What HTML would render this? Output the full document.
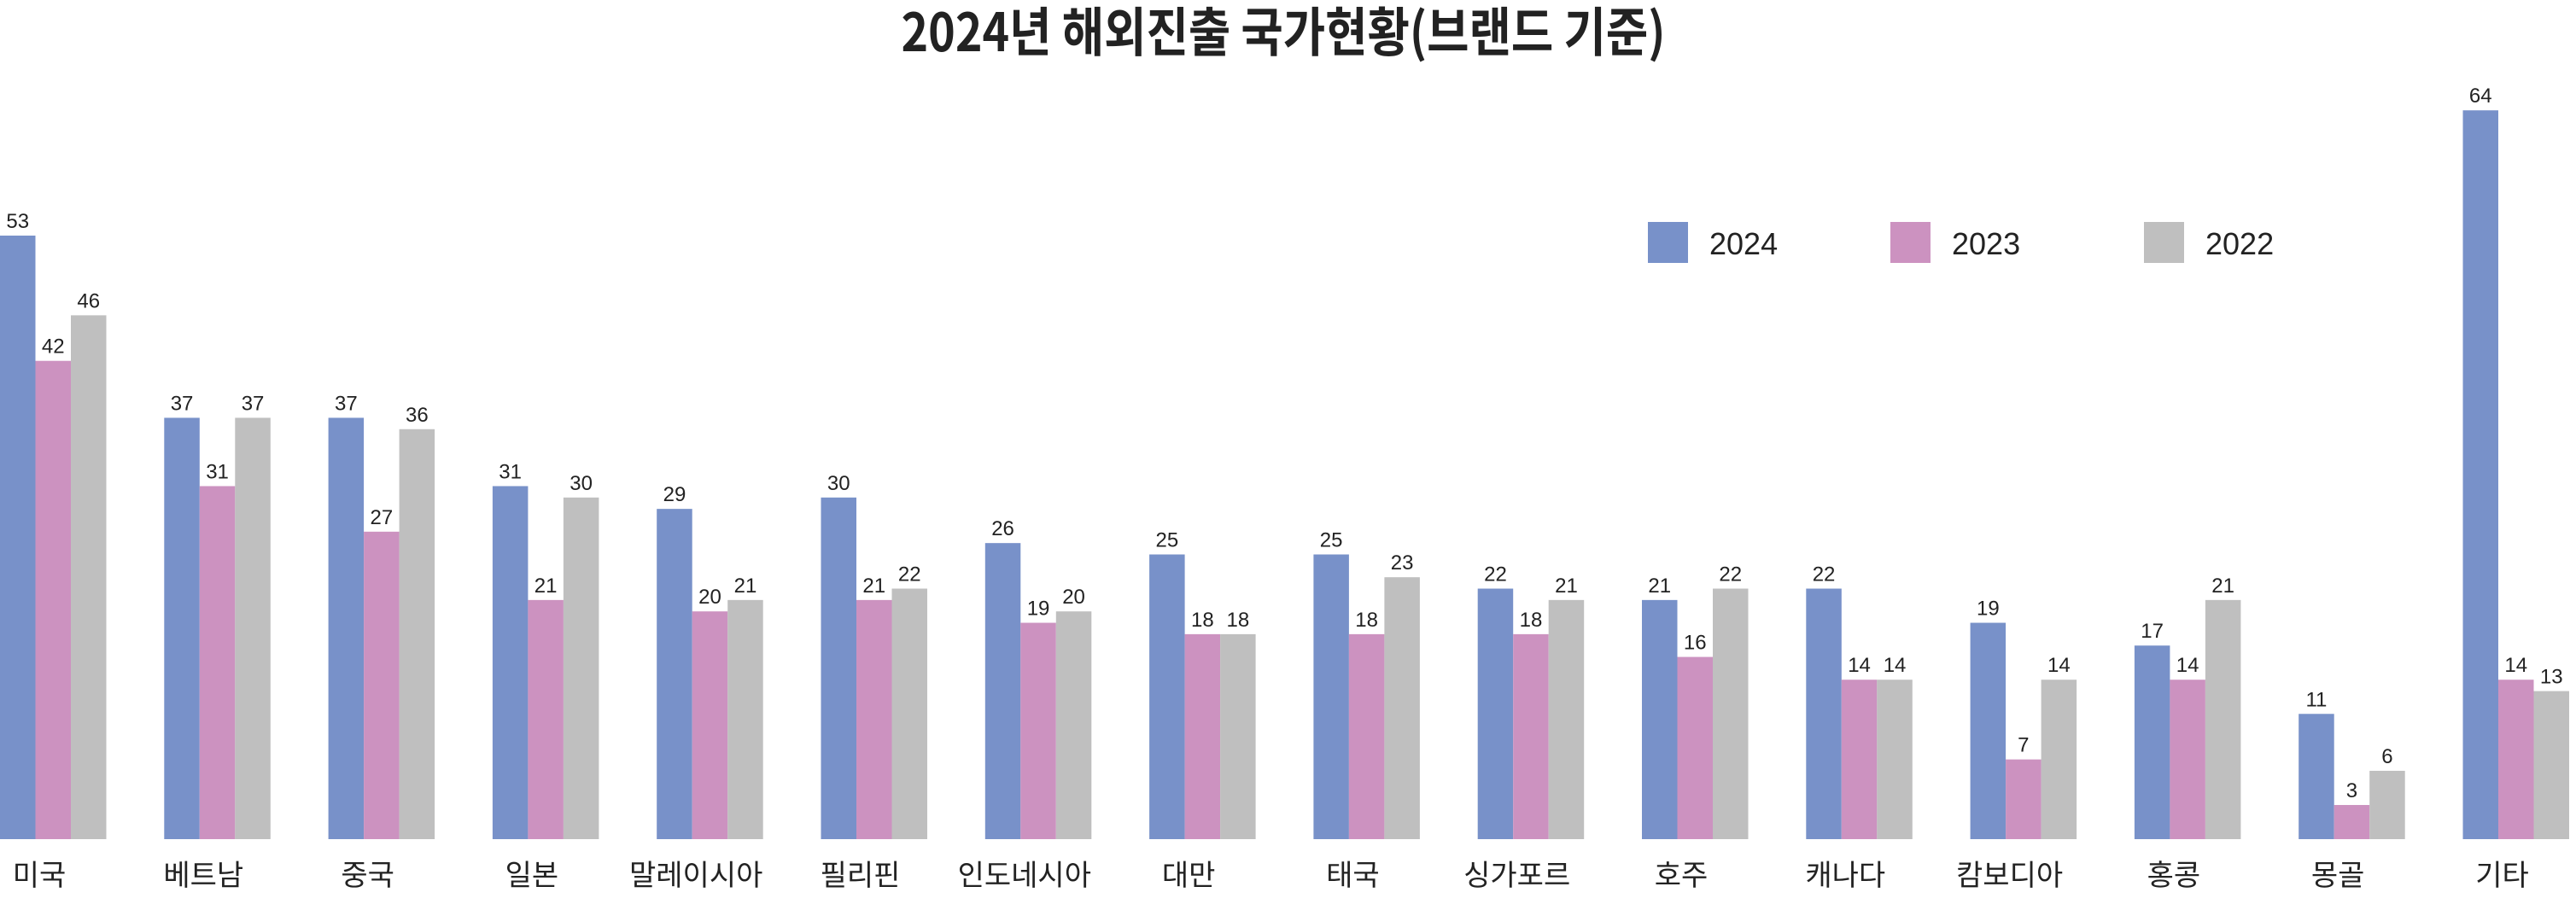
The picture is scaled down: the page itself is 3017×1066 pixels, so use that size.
<!DOCTYPE html>
<html><head><meta charset="utf-8"><style>
html,body{margin:0;padding:0;background:#fff;}
svg{display:block;font-family:"Liberation Sans","Noto Sans CJK KR",sans-serif;}
</style></head><body>
<svg width="3017" height="1066" viewBox="0 0 3017 1066" xmlns="http://www.w3.org/2000/svg">
<text x="1503" y="60" text-anchor="middle" font-size="62" font-weight="bold" fill="#222" font-family="Noto Sans CJK KR, sans-serif" textLength="895" lengthAdjust="spacingAndGlyphs">2024년 해외진출 국가현황(브랜드 기준)</text>
<rect x="1930" y="260" width="47" height="48" fill="#7891c9"/>
<text x="2002" y="298" font-size="36" fill="#222">2024</text>
<rect x="2214" y="260" width="47" height="48" fill="#cc92c0"/>
<text x="2286" y="298" font-size="36" fill="#222">2023</text>
<rect x="2511" y="260" width="47" height="48" fill="#bfbfbf"/>
<text x="2583" y="298" font-size="36" fill="#222">2022</text>
<g id="bars"></g>
</svg>
<script>
var d=[["미국",53,42,46],["베트남",37,31,37],["중국",37,27,36],["일본",31,21,30],["말레이시아",29,20,21],["필리핀",30,21,22],["인도네시아",26,19,20],["대만",25,18,18],["태국",25,18,23],["싱가포르",22,18,21],["호주",21,16,22],["캐나다",22,14,14],["캄보디아",19,7,14],["홍콩",17,14,21],["몽골",11,3,6],["기타",64,14,13]];
var c=["#7891c9","#cc92c0","#bfbfbf"],g=document.getElementById("bars"),s="",base=983,k=13.34,w=41.5,p=192.3;
d.forEach(function(r,i){var x0=i*p;
for(var j=0;j<3;j++){var h=r[j+1]*k,x=x0+j*w;
s+='<rect x="'+x+'" y="'+(base-h)+'" width="'+w+'" height="'+h+'" fill="'+c[j]+'"/>';
s+='<text x="'+(x+w/2)+'" y="'+(base-h-9)+'" text-anchor="middle" font-size="24" fill="#222">'+r[j+1]+'</text>';}
s+='<text x="'+(x0+46)+'" y="1037" text-anchor="middle" font-size="34" fill="#222">'+r[0]+'</text>';});
g.innerHTML=s;
</script>
</body></html>
